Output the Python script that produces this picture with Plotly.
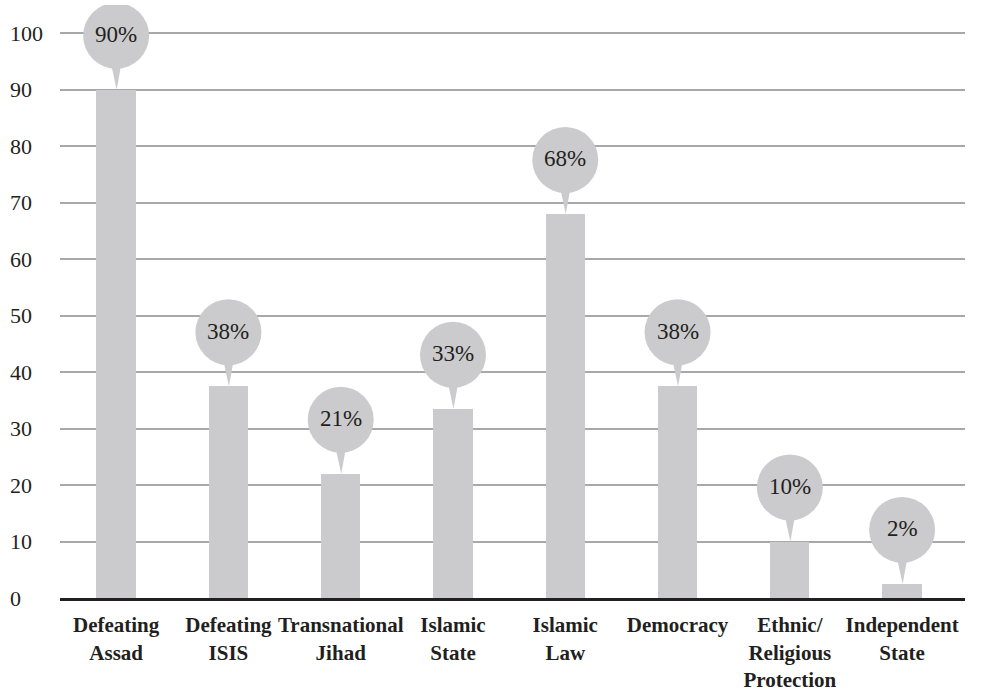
import plotly.graph_objects as go

categories = ["Defeating<br>Assad", "Defeating<br>ISIS", "Transnational<br>Jihad",
              "Islamic<br>State", "Islamic<br>Law", "Democracy",
              "Ethnic/<br>Religious<br>Protection", "Independent<br>State"]
bar_values = [90, 37.5, 22, 33.5, 68, 37.5, 10, 2.5]
bubble_labels = ["90%", "38%", "21%", "33%", "68%", "38%", "10%", "2%"]
ytick_values = [0, 10, 20, 30, 40, 50, 60, 70, 80, 90, 100]
ytick_labels = ["0", "10", "20", "30", "40", "50", "60", "70", "80", "90", "100"]

BAR = "#cbcbcd"
TXT = "#231f20"
SERIF = "'Liberation Serif', 'Times New Roman', Times, 'DejaVu Serif', serif"

fig = go.Figure()
fig.add_trace(go.Bar(x=list(range(len(categories))), y=bar_values,
                     marker=dict(color=BAR, line=dict(width=0)),
                     width=0.35, hoverinfo="skip"))

shapes = []
annotations = []
for i, (v, lab) in enumerate(zip(bar_values, bubble_labels)):
    shapes.append(dict(type="circle", xref="x", yref="y",
                       xsizemode="pixel", ysizemode="pixel",
                       xanchor=i, yanchor=v,
                       x0=-33, x1=33, y0=21, y1=87,
                       fillcolor=BAR, line=dict(width=0), layer="above"))
    shapes.append(dict(type="path", xref="x", yref="y",
                       xsizemode="pixel", ysizemode="pixel",
                       xanchor=i, yanchor=v,
                       path="M -6,30 L 6,30 L 0.5,0 Z",
                       fillcolor=BAR, line=dict(width=0), layer="above"))
    annotations.append(dict(x=i, y=v, xref="x", yref="y", text=lab,
                            showarrow=False, yshift=55,
                            font=dict(family=SERIF, size=23, color=TXT)))

for tv, tl in zip(ytick_values, ytick_labels):
    annotations.append(dict(x=-52 / 905, y=tv, xref="paper", yref="y", text=tl,
                            showarrow=False, xanchor="left", yanchor="middle",
                            font=dict(family=SERIF, size=22, color=TXT)))

fig.update_layout(
    width=985, height=694,
    margin=dict(l=60, r=20, t=5, b=96),
    plot_bgcolor="white", paper_bgcolor="white",
    showlegend=False,
    shapes=shapes, annotations=annotations,
    bargap=0,
    font=dict(family=SERIF, color=TXT),
)
fig.update_xaxes(
    tickmode="array", tickvals=list(range(len(categories))), ticktext=categories,
    range=[-0.5, 7.56], showgrid=False, zeroline=False,
    showline=True, linecolor=TXT, linewidth=3,
    ticks="", ticklabelstandoff=6, automargin=False,
    tickfont=dict(family=SERIF, size=21, color=TXT, weight="bold"),
)
fig.update_yaxes(
    range=[0, 105], tickvals=ytick_values, showticklabels=False,
    showgrid=True, gridcolor="#a8a8ab", gridwidth=2, zeroline=False,
    showline=False, automargin=False,
)

fig.write_html("out.html")
